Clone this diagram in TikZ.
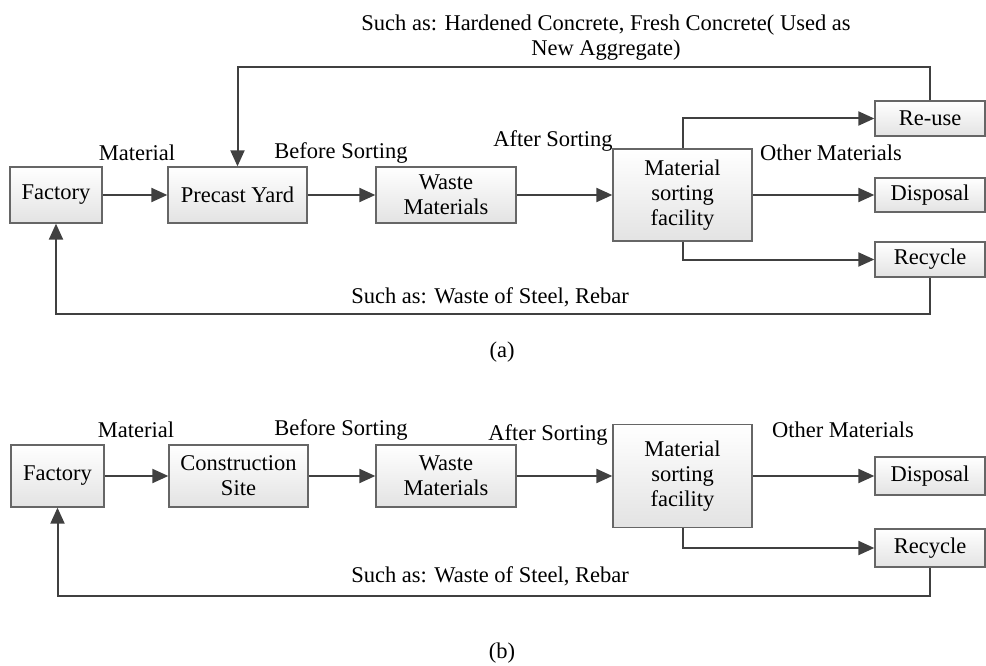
\documentclass[tikz,border=0pt]{standalone}
\usepackage{fontspec}
\setmainfont{Liberation Serif}
\usetikzlibrary{arrows.meta}

\definecolor{lineg}{HTML}{404040}
\definecolor{boxg}{HTML}{666666}
\tikzset{
  box/.style={draw=boxg, line width=1.3pt, top color=white, bottom color=gray!22,
    align=center, inner sep=0pt, minimum height=#1},
  box/.default=56pt,
  lbl/.style={inner sep=0pt, align=center},
  arr/.style={draw=lineg, line width=2pt, -{Triangle[length=16pt,width=14pt]}},
  ln/.style={draw=lineg, line width=2pt}
}

\begin{document}
\begin{tikzpicture}[x=1pt,y=-1pt,font=\fontsize{22.5}{25}\selectfont]
\useasboundingbox (0,0) rectangle (986,666);

% (a)
\node[box, minimum width=92pt] (fa) at (56,195) {Factory};
\node[box, minimum width=139pt] (py) at (237.5,195) {Precast Yard};
\node[box, minimum width=140pt] (wa) at (446,195) {Waste\\Materials};
\node[box=92pt, minimum width=139pt] (sa) at (682.5,195) {Material\\sorting\\facility};
\node[box=35pt, minimum width=110pt] (ru) at (930,118.5) {Re-use};
\node[box=34pt, minimum width=110pt] (da) at (930,195) {Disposal};
\node[box=35pt, minimum width=110pt] (ra) at (930,259.5) {Recycle};
\coordinate (ta) at (237.5,67);
\coordinate (ba) at (56,314);

\draw[arr] (fa) -- (py);
\draw[arr] (py) -- (wa);
\draw[arr] (wa) -- (sa);
\draw[arr] (sa) -- (da);
\draw[arr] (sa.north) |- (ru);
\draw[arr] (sa.south) |- (ra);
\draw[arr] (ru.north) |- (ta) -- (py.north);
\draw[arr] (ra.south) |- (ba) -- (fa.south);

\node[lbl] at (137,153) {Material};
\node[lbl] at (341,153) {Before Sorting};
\node[lbl] at (553,141) {After Sorting};
\node[lbl] at (831,153) {Other Materials};
\node[lbl] at (606,38) {Such as: Hardened Concrete, Fresh Concrete( Used as\\New Aggregate)};
\node[lbl] at (490,297) {Such as: Waste of Steel, Rebar};
\node[lbl] at (502,352) {(a)};

% (b)
\node[box=62pt, minimum width=93pt] (fb) at (57.5,476) {Factory};
\node[box=62pt, minimum width=139pt] (cs) at (238.5,476) {Construction\\Site};
\node[box=62pt, minimum width=140pt] (wb) at (446,476) {Waste\\Materials};
\node[box=103pt, minimum width=139pt] (sb) at (682.5,476) {Material\\sorting\\facility};
\node[box=38pt, minimum width=110pt] (db) at (930,476) {Disposal};
\node[box=38pt, minimum width=110pt] (rb) at (930,548) {Recycle};
\coordinate (bb) at (57.5,596);

\draw[arr] (fb) -- (cs);
\draw[arr] (cs) -- (wb);
\draw[arr] (wb) -- (sb);
\draw[arr] (sb) -- (db);
\draw[arr] (sb.south) |- (rb);
\draw[arr] (rb.south) |- (bb) -- (fb.south);

\node[lbl] at (136,430) {Material};
\node[lbl] at (341,430) {Before Sorting};
\node[lbl] at (548,435) {After Sorting};
\node[lbl] at (843,430) {Other Materials};
\node[lbl] at (490,576) {Such as: Waste of Steel, Rebar};
\node[lbl] at (502,653) {(b)};
\end{tikzpicture}
\end{document}
